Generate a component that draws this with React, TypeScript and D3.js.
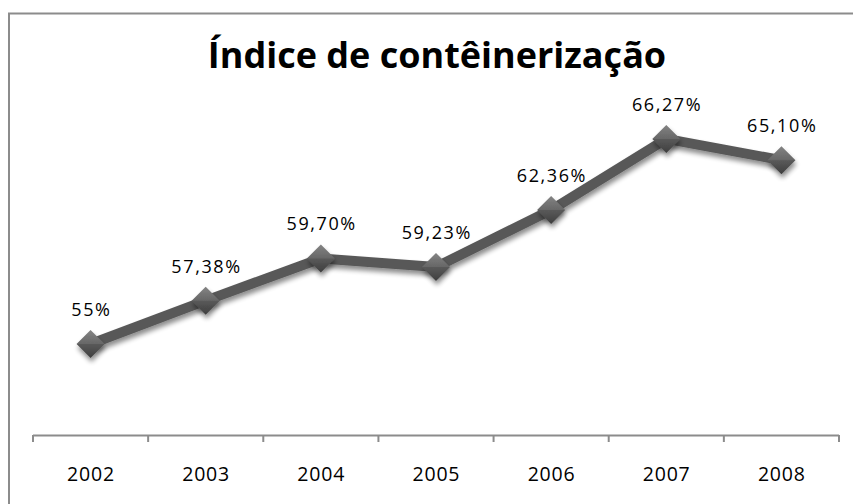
import * as d3 from 'd3';

const years = ['2002', '2003', '2004', '2005', '2006', '2007', '2008'];
const values = [55, 57.38, 59.7, 59.23, 62.36, 66.27, 65.1];
const labels = ['55%', '57,38%', '59,70%', '59,23%', '62,36%', '66,27%', '65,10%'];

const W = 853;
const H = 504;
const FONT = '"Open Sans", "Noto Sans", sans-serif';

export default function App() {
  const x = d3.scaleBand().domain(years).range([33, 839]);
  const y = d3.scaleLinear().domain([50, 70]).range([435, 71]);
  const cx = (i: number) => x(years[i])! + x.bandwidth() / 2;

  const line = d3
    .line<number>()
    .x((_, i) => cx(i))
    .y((d) => y(d));

  const r = 14;
  const diamond = `M0,${-r}L${r},0L0,${r}L${-r},0Z`;
  const ticks = [...years.map((yr) => x(yr)!), 839];

  return (
    <div style={{ position: 'absolute', left: 0, top: 0 }}>
      <svg width={W} height={H} style={{ display: 'block' }}>
        <defs>
          <linearGradient id="mk" x1="0" y1="0" x2="0" y2="1">
            <stop offset="0" stopColor="#7a7a7a" />
            <stop offset="0.5" stopColor="#5a5a5a" />
            <stop offset="1" stopColor="#3e3e3e" />
          </linearGradient>
          <filter id="sh" x="-50%" y="-50%" width="200%" height="200%">
            <feGaussianBlur in="SourceAlpha" stdDeviation="2.5" />
            <feOffset dx="1" dy="4" result="b" />
            <feComponentTransfer>
              <feFuncA type="linear" slope="0.45" />
            </feComponentTransfer>
            <feMerge>
              <feMergeNode />
              <feMergeNode in="SourceGraphic" />
            </feMerge>
          </filter>
        </defs>
        <rect x={0} y={0} width={W} height={H} fill="#fff" />
        <rect x={9} y={13.5} width={W + 20} height={H + 20} fill="none" stroke="#8c8c8c" strokeWidth={2} />

        <text x={437} y={68} textAnchor="middle" fontFamily={FONT} fontWeight="bold" fontSize={36} fill="#000">
          Índice de contêinerização
        </text>

        <line x1={33} x2={839} y1={435.5} y2={435.5} stroke="#8c8c8c" strokeWidth={2} />
        {ticks.map((t, i) => (
          <line key={i} x1={t} x2={t} y1={435} y2={442} stroke="#8c8c8c" strokeWidth={2} />
        ))}
        {years.map((yr, i) => (
          <text key={yr} x={cx(i) + 0.4} y={481} textAnchor="middle" fontFamily={FONT} fontSize={19.5} letterSpacing={0.8} fill="#000">
            {yr}
          </text>
        ))}

        <path d={line(values) ?? ''} fill="none" stroke="#595959" strokeWidth={10} strokeLinejoin="round" filter="url(#sh)" />
        {values.map((v, i) => (
          <g key={i} transform={`translate(${cx(i)},${y(v)})`}>
            <path d={diamond} fill="url(#mk)" filter="url(#sh)" />
            <path d={`M0,${-r}L${r},0L${-r},0Z`} fill="#fff" opacity={0.08} />
          </g>
        ))}
        {values.map((v, i) => (
          <text key={i} x={cx(i) + 0.8} y={y(v) - 28} textAnchor="middle" fontFamily={FONT} fontSize={18} letterSpacing={1.6} fill="#000">
            {labels[i]}
          </text>
        ))}
      </svg>
    </div>
  );
}
